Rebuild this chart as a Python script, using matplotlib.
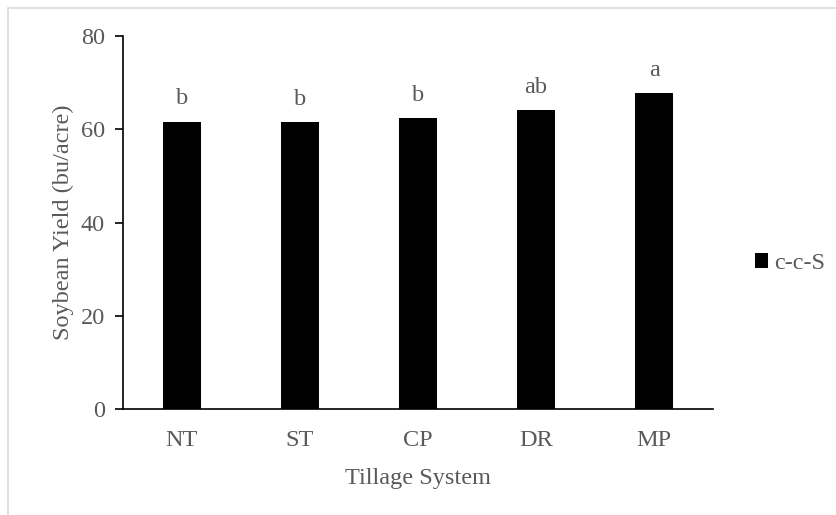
import numpy as np
import matplotlib
matplotlib.use('Agg')
import matplotlib.pyplot as plt
import matplotlib.patches as patches

# Podatki
systems = ['NT', 'ST', 'CP', 'DR', 'MP']
yield_ccs = [61.6, 61.5, 62.4, 64.1, 67.7]
letters = ['b', 'b', 'b', 'ab', 'a']
series_name = 'c-c-S'

plt.rcParams['font.family'] = ['Liberation Serif', 'DejaVu Serif']
txt_color = '#595959'
fs = 17.5

fig = plt.figure(figsize=(8.36, 5.15), dpi=100)
ax = fig.add_axes([0.147, 0.205, 0.706, 0.725])

# Okvir okoli celotne slike (desni in spodnji rob odrezan)
fig.patches.append(patches.Rectangle((8 / 836, -0.1), 1.2, 1 - 8 / 515 + 0.1,
                                     transform=fig.transFigure, fill=False,
                                     edgecolor='#d9d9d9', linewidth=1.2))

x = np.arange(len(systems))
bars = ax.bar(x, yield_ccs, width=0.315, color='black', label=series_name, zorder=3)

for xi, yi, lab in zip(x, yield_ccs, letters):
    ax.annotate(lab, (xi, yi), xytext=(0, 9), textcoords='offset points',
                ha='center', va='bottom', fontsize=fs, color=txt_color)

ax.set_xlim(-0.5, len(systems) - 0.5)
ax.set_ylim(0, 80)
ax.set_yticks([0, 20, 40, 60, 80])
ax.set_xticks(x)
ax.set_xticklabels(systems)

for s in ['top', 'right']:
    ax.spines[s].set_visible(False)
for s in ['left', 'bottom']:
    ax.spines[s].set_color('black')
    ax.spines[s].set_linewidth(1.2)

ax.tick_params(axis='y', direction='out', length=6, width=1.2, color='black',
               labelsize=fs, labelcolor=txt_color, pad=7)
ax.tick_params(axis='x', length=0, labelsize=fs, labelcolor=txt_color, pad=15)

ax.set_xlabel('Tillage System', fontsize=fs, color=txt_color, labelpad=12)
ax.set_ylabel('Soybean Yield (bu/acre)', fontsize=fs, color=txt_color, labelpad=5)

leg = ax.legend(loc='center left', bbox_to_anchor=(1.034, 0.39), frameon=False,
                fontsize=fs, handlelength=0.55, handleheight=0.55, handletextpad=0.25)
for t in leg.get_texts():
    t.set_color(txt_color)

fig.savefig('out.png', dpi=100)
